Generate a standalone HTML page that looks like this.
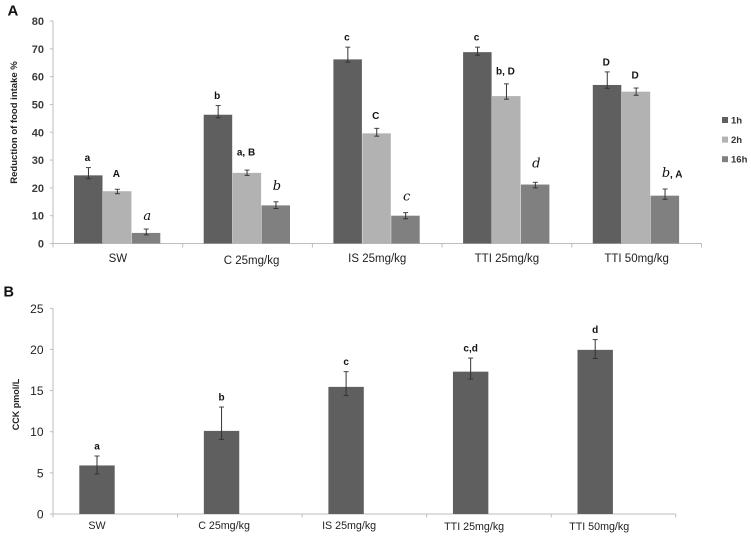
<!DOCTYPE html>
<html>
<head>
<meta charset="utf-8">
<title>Food intake and CCK charts</title>
<style>
html,body{margin:0;padding:0;background:#fff;width:751px;height:536px;overflow:hidden}
svg{display:block;font-family:"Liberation Sans",sans-serif;filter:blur(0.35px)}
</style>
</head>
<body>
<svg id="fig" xmlns="http://www.w3.org/2000/svg" width="751" height="536" viewBox="0 0 751 536">
  <rect x="0" y="0" width="751" height="536" fill="#ffffff"></rect>
  <text x="7.5" y="15.5" font-size="15" font-weight="bold" fill="#111">A</text>
  <text x="3.5" y="296.5" font-size="14.5" font-weight="bold" fill="#111">B</text>
  <text transform="translate(17,122.5) rotate(-90)" text-anchor="middle" font-size="9.5" font-weight="bold" fill="#222">Reduction of food intake %</text>
  <text transform="translate(19,404.5) rotate(-90)" text-anchor="middle" font-size="9" font-weight="bold" fill="#222">CCK pmol/L</text>
</svg>
<script>
var categories = ["SW", "C 25mg/kg", "IS 25mg/kg", "TTI 25mg/kg", "TTI 50mg/kg"];
var seriesNames = ["1h", "2h", "16h"];

var ticksA = [0, 10, 20, 30, 40, 50, 60, 70, 80];
var values1h = [24.5, 46.3, 66.2, 68.8, 57];
var values2h = [18.8, 25.4, 39.6, 53, 54.6];
var values16h = [3.8, 13.7, 10, 21.2, 17.2];
var upper1h = [27.3, 49.6, 70.6, 70.6, 61.7];
var lower1h = [23.3, 45.2, 65.2, 67.7, 55.8];
var upper2h = [19.5, 26.4, 41.4, 57.4, 55.9];
var lower2h = [17.9, 24.5, 38.6, 51.9, 53.3];
var upper16h = [5.2, 15, 11.1, 22, 19.6];
var lower16h = [3.1, 12.6, 8.9, 20, 15.9];
var letters1h = ["a", "b", "c", "c", "D"];
var letters2h = ["A", "a, B", "C", "b, D", "D"];
var letters16h = ["a", "b", "c", "d", "b"];

var ticksB = [0, 5, 10, 15, 20, 25];
var valuesB = [5.9, 10.1, 15.45, 17.3, 19.95];
var upperB = [7.05, 13, 17.3, 18.95, 21.2];
var lowerB = [4.87, 9.07, 14.4, 16.4, 18.9];
var lettersB = ["a", "b", "c", "c,d", "d"];

var svg = document.getElementById('fig');
var NS = 'http://www.w3.org/2000/svg';

function make(tag, attrs, name, parent) {
  var el = document.createElementNS(NS, tag);
  for (var k in attrs) { el.setAttribute(k, attrs[k]); }
  
  
  (parent || svg).appendChild(el);
  return el;
}
function label(str, attrs, name) {
  var el = make('text', attrs, name);
  el.textContent = str;
  return el;
}
function slug(s) { return s.toLowerCase().replace(/[^a-z0-9]+/g, '-'); }

/* Panel A scales */
var aLeft = 53, aCatW = 129.7, aBase = 243.5, aTop = 21, aMax = 80, aBarW = 28.9;
function xA(i) { return aLeft + aCatW * i; }
function yA(v) { return aBase - (v / aMax) * (aBase - aTop); }

/* Panel B scales */
var bLeft = 53, bCatW = 124.55, bBase = 514, bTop = 308.3, bMax = 25, bBarW = 35.4, bBarShift = 44;
function xB(i) { return bLeft + bCatW * i; }
function yB(v) { return bBase - (v / bMax) * (bBase - bTop); }

function errorBar(cx, yHi, yLo, name) {
  make('line', {x1: cx, x2: cx, y1: yHi, y2: yLo, stroke: '#333', 'stroke-width': 1}, name + '-stem');
  make('line', {x1: cx - 2.5, x2: cx + 2.5, y1: yHi, y2: yHi, stroke: '#444', 'stroke-width': 1}, name + '-top-cap');
  make('line', {x1: cx - 2.5, x2: cx + 2.5, y1: yLo, y2: yLo, stroke: '#333', 'stroke-width': 1}, name + '-bottom-cap');
}

/* Panel A axes */
var axisColor = '#bdbdbd';
make('line', {x1: aLeft, x2: aLeft, y1: aTop, y2: aBase, stroke: axisColor, 'stroke-width': 1}, 'panel-a-y-axis');
make('line', {x1: aLeft, x2: xA(categories.length), y1: aBase, y2: aBase, stroke: axisColor, 'stroke-width': 1}, 'panel-a-x-axis');
ticksA.forEach(function (t) {
  make('line', {x1: aLeft - 3, x2: aLeft, y1: yA(t), y2: yA(t), stroke: axisColor, 'stroke-width': 1}, 'panel-a-y-tick-mark-' + t);
  label(String(t), {x: 44, y: yA(t) + 4, 'text-anchor': 'end', 'font-size': 11, 'font-weight': 'bold', fill: '#3a3a3a'}, 'panel-a-y-tick-' + t);
});
for (var c = 0; c <= categories.length; c++) {
  make('line', {x1: xA(c), x2: xA(c), y1: aBase, y2: aBase + 4, stroke: axisColor, 'stroke-width': 1}, 'panel-a-x-tick-mark-' + c);
}
categories.forEach(function (cat, i) {
  var dx = i === 1 ? 4 : 0;
  var dy = i === 1 ? 2 : 0;
  label(cat, {x: xA(i) + aCatW / 2 + dx, y: aBase + 18.5 + dy, 'text-anchor': 'middle', 'font-size': 11.5, fill: '#222'}, 'panel-a-category-' + slug(cat));
});

/* Panel A series */
var seriesA = [
  {key: '1h', vals: values1h, up: upper1h, lo: lower1h, letters: letters1h, color: '#5f5f5f', gap: 10},
  {key: '2h', vals: values2h, up: upper2h, lo: lower2h, letters: letters2h, color: '#b2b2b2', gap: 13},
  {key: '16h', vals: values16h, up: upper16h, lo: lower16h, letters: letters16h, color: '#808080', gap: 15}
];
function letterLift(text, script) {
  if (script) { return text === 'a' ? -3 : (text === 'd' ? 3 : 0); }
  if (text === 'A') { return 3; }
  if (text === 'a, B') { return 5; }
  return 0;
}
seriesA.forEach(function (s, si) {
  s.vals.forEach(function (v, i) {
    var groupLeft = xA(i) + (aCatW - aBarW * 3) / 2 - 0.5;
    var x = groupLeft + aBarW * si;
    var id = 'panel-a-' + slug(categories[i]) + '-' + s.key;
    make('rect', {x: x, y: yA(v), width: aBarW - 0.4, height: aBase - yA(v), fill: s.color}, 'bar-' + id);
    errorBar(x + aBarW / 2, yA(s.up[i]), yA(s.lo[i]), 'error-bar-' + id);
    var script = si === 2;
    var attrs = {
      x: x + aBarW / 2 + (script ? 1 : -1),
      y: yA(s.up[i]) - s.gap + (script ? 3 : 3.5) - letterLift(s.letters[i], script),
      'text-anchor': 'middle',
      fill: '#111'
    };
    if (script) {
      attrs['font-family'] = '"DejaVu Serif", "Liberation Serif", serif';
      attrs['font-style'] = 'italic';
      attrs['font-size'] = 13;
    } else {
      attrs['font-size'] = 10;
      attrs['font-weight'] = 'bold';
    }
    label(s.letters[i], attrs, 'significance-letter-' + id);
    if (script && i === 4) {
      label(', A', {x: x + aBarW / 2 + 5, y: yA(s.up[i]) - s.gap + 3.5, 'font-size': 10, 'font-weight': 'bold', fill: '#111'}, 'significance-letter-suffix-' + id);
    }
  });
});

/* Legend */
var legendColors = ['#5f5f5f', '#b2b2b2', '#808080'];
seriesNames.forEach(function (n, i) {
  var cy = 120 + i * 19.6;
  make('rect', {x: 722, y: cy - 3, width: 6, height: 6, fill: legendColors[i]}, 'legend-swatch-' + n);
  label(n, {x: 731, y: cy + 3.5, 'font-size': 9.5, 'font-weight': 'bold', fill: '#333'}, 'legend-entry-' + n);
});

/* Panel B axes */
make('line', {x1: bLeft, x2: bLeft, y1: bTop, y2: bBase, stroke: axisColor, 'stroke-width': 1}, 'panel-b-y-axis');
make('line', {x1: bLeft, x2: xB(categories.length), y1: bBase, y2: bBase, stroke: axisColor, 'stroke-width': 1}, 'panel-b-x-axis');
ticksB.forEach(function (t) {
  make('line', {x1: bLeft - 3, x2: bLeft, y1: yB(t), y2: yB(t), stroke: axisColor, 'stroke-width': 1}, 'panel-b-y-tick-mark-' + t);
  label(String(t), {x: 43.5, y: yB(t) + 4.5, 'text-anchor': 'end', 'font-size': 12, fill: '#222'}, 'panel-b-y-tick-' + t);
});
for (var d = 0; d <= categories.length; d++) {
  make('line', {x1: xB(d), x2: xB(d), y1: bBase, y2: bBase + 3.5, stroke: axisColor, 'stroke-width': 1}, 'panel-b-x-tick-mark-' + d);
}
categories.forEach(function (cat, i) {
  var dx = i === 0 ? 0 : 2 + 0.5 * i;
  var dy = i >= 3 ? 1 : 0;
  label(cat, {x: xB(i) + bBarShift + dx, y: bBase + 15 + dy, 'text-anchor': 'middle', 'font-size': 10.7, fill: '#222'}, 'panel-b-category-' + slug(cat));
});

/* Panel B series */
valuesB.forEach(function (v, i) {
  var cx = xB(i) + bBarShift;
  var id = 'panel-b-' + slug(categories[i]);
  make('rect', {x: cx - bBarW / 2, y: yB(v), width: bBarW, height: bBase - yB(v), fill: '#5f5f5f'}, 'bar-' + id);
  errorBar(cx, yB(upperB[i]), yB(lowerB[i]), 'error-bar-' + id);
  label(lettersB[i], {x: cx, y: yB(upperB[i]) - 6.5, 'text-anchor': 'middle', 'font-size': 10, 'font-weight': 'bold', fill: '#111'}, 'significance-letter-' + id);
});
</script>
</body>
</html>
